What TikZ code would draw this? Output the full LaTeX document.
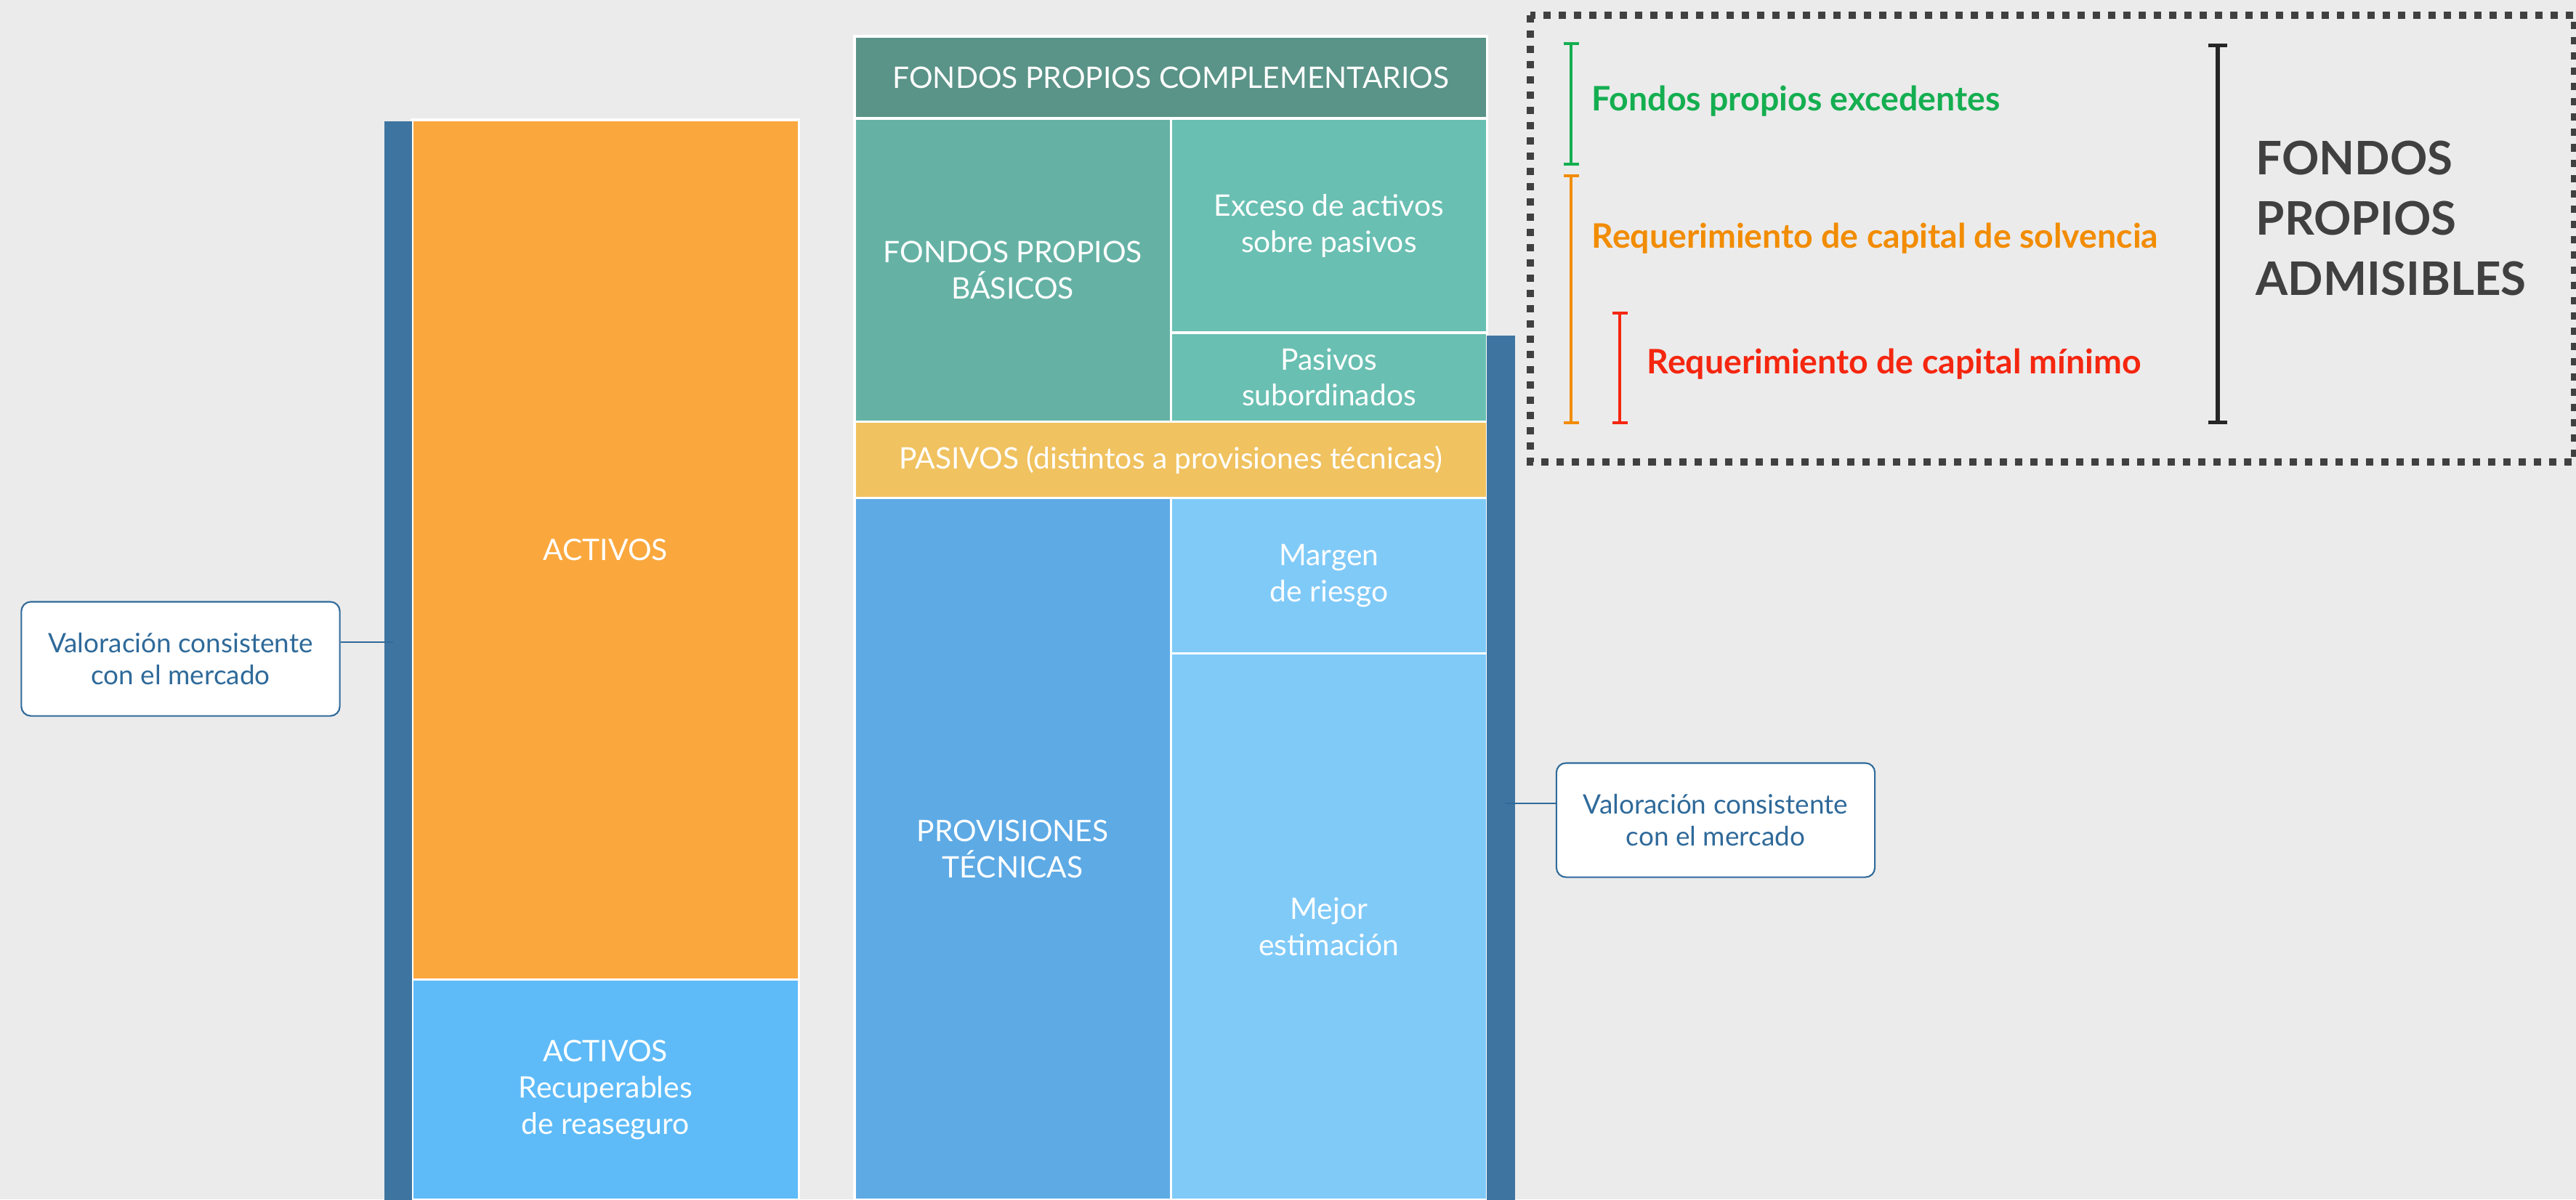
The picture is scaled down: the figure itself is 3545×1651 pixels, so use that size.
\documentclass[tikz,border=0pt]{standalone}
\usepackage{fontspec}
\setmainfont{Lato}
\usetikzlibrary{arrows.meta,positioning}

\definecolor{bgc}{HTML}{EBEBEB}
\definecolor{barc}{HTML}{3E75A0}
\definecolor{act}{HTML}{FAA83E}
\definecolor{rec}{HTML}{5EBBF8}
\definecolor{fpc}{HTML}{5A9387}
\definecolor{fpb}{HTML}{65B2A5}
\definecolor{exc}{HTML}{69BFB2}
\definecolor{pas}{HTML}{F0C260}
\definecolor{prv}{HTML}{5DAAE5}
\definecolor{mej}{HTML}{80CAF8}
\definecolor{notec}{HTML}{2F6A9A}
\definecolor{grn}{HTML}{14AE50}
\definecolor{org}{HTML}{F28C00}
\definecolor{rqm}{HTML}{F5260F}
\definecolor{blk}{HTML}{262626}
\definecolor{dgr}{HTML}{404040}

\begin{document}
\begin{tikzpicture}[x=0.01cm, y=-0.01cm,
    box/.style={draw=white, line width=1pt, text=white, align=center, inner sep=0pt, outer sep=0pt, anchor=north west, font=\fontsize{11.6}{14.2}\selectfont},
    bar/.style={fill=barc, inner sep=0pt, outer sep=0pt, anchor=north west},
    note/.style={draw=notec, fill=white, rounded corners=0.13cm, line width=0.6pt, text=notec, align=center, minimum width=4.38cm, minimum height=1.57cm, font=\fontsize{10.5}{12.3}\selectfont},
    con/.style={draw=notec, line width=0.4pt},
    brk/.style={line width=1.2pt, {Bar[width=0.21cm]}-{Bar[width=0.21cm]}},
    lbl/.style={anchor=west, inner sep=0pt, font=\bfseries\fontsize{13.2}{16}\selectfont}]
      \useasboundingbox (0,0) rectangle (3545,1651);
      \fill[bgc] (0,0) rectangle (3545,1651);

      % balance: right column
      \node[box, fill=fpc, minimum width=8.7cm, minimum height=1.13cm] (1) at (1176,50) {FONDOS PROPIOS COMPLEMENTARIOS};
      \node[box, fill=fpb, minimum width=4.35cm, minimum height=4.17cm] (2) at (1.south west) {FONDOS PROPIOS\\BÁSICOS};
      \node[box, fill=exc, minimum width=4.35cm, minimum height=2.95cm] (3) at (2.north east) {Exceso de activos\\sobre pasivos};
      \node[box, fill=exc, minimum width=4.35cm, minimum height=1.22cm] (4) at (3.south west) {Pasivos\\subordinados};
      \node[box, fill=pas, minimum width=8.7cm, minimum height=1.05cm] (5) at (2.south west) {PASIVOS (distintos a provisiones técnicas)};
      \node[box, fill=prv, minimum width=4.35cm, minimum height=9.66cm] (6) at (5.south west) {PROVISIONES\\TÉCNICAS};
      \node[box, fill=mej, minimum width=4.35cm, minimum height=2.14cm] (7) at (6.north east) {Margen\\de riesgo};
      \node[box, fill=mej, minimum width=4.35cm, minimum height=7.52cm] (8) at (7.south west) {Mejor\\estimación};

      % balance: left column
      \node[box, fill=act, minimum width=5.32cm, minimum height=11.83cm] (9) at (567,165) {ACTIVOS};
      \node[box, fill=rec, minimum width=5.32cm, minimum height=3.03cm] (10) at (9.south west) {ACTIVOS\\Recuperables\\de reaseguro};

      \node[bar, minimum width=0.38cm, minimum height=14.84cm] (11) at (529,167) {};
      \node[bar, minimum width=0.39cm, minimum height=11.89cm] (12) at (2046,462) {};

      % callouts
      \node[note] (13) at (248.5,907) {Valoración consistente\\con el mercado};
      \node[note] (14) at (2361,1129) {Valoración consistente\\con el mercado};
      \coordinate (c1) at (541,884);
      \coordinate (c2) at (2071,1106);
      \draw[con] (c1 -| 13.east) -- (c1);
      \draw[con] (c2 -| 14.west) -- (c2);

      % fondos propios admisibles
      \draw[dgr, line width=0.1cm, dash pattern=on 0.1cm off 0.11cm] (2106,21) rectangle (3543,636);
      \draw[brk, grn] (2162,58) -- (2162,228);
      \draw[brk, org] (2162,240) -- (2162,584);
      \draw[brk, rqm] (2229,429) -- (2229,584);
      \draw[line width=1.5pt, blk, {Bar[width=0.26cm]}-{Bar[width=0.26cm]}] (3052,60) -- (3052,584);
      \node[lbl, grn] (15) at (2190,139) {Fondos propios excedentes};
      \node[lbl, org] (16) at (2190,328) {Requerimiento de capital de solvencia};
      \node[lbl, rqm] (17) at (2266,501) {Requerimiento de capital mínimo};
      \node[lbl, dgr, align=left, font=\bfseries\fontsize{18.1}{23.6}\selectfont] (18) at (3104,300) {FONDOS\\PROPIOS\\ADMISIBLES};
\end{tikzpicture}
\end{document}
